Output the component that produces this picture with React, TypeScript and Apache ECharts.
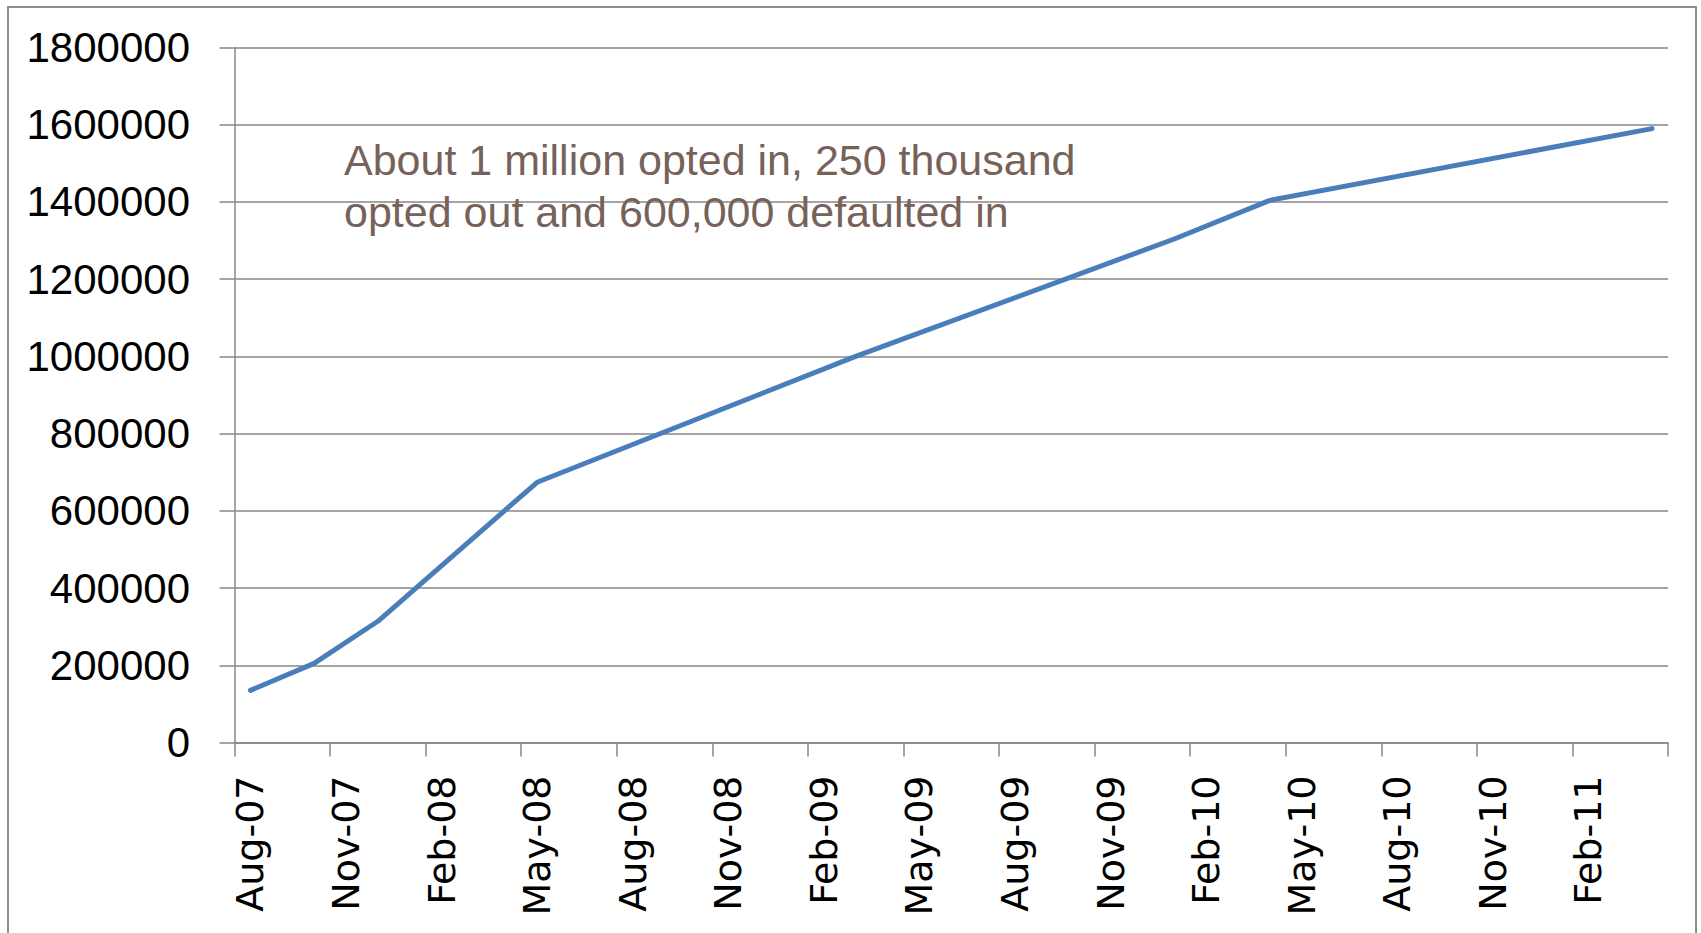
import React, { useEffect, useRef } from "react";
import * as echarts from "echarts";

// Monthly category axis (Excel date axis, base unit = month)
const months = [
  "Aug-07", "Sep-07", "Oct-07", "Nov-07", "Dec-07",
  "Jan-08", "Feb-08", "Mar-08", "Apr-08", "May-08", "Jun-08", "Jul-08", "Aug-08", "Sep-08", "Oct-08", "Nov-08", "Dec-08",
  "Jan-09", "Feb-09", "Mar-09", "Apr-09", "May-09", "Jun-09", "Jul-09", "Aug-09", "Sep-09", "Oct-09", "Nov-09", "Dec-09",
  "Jan-10", "Feb-10", "Mar-10", "Apr-10", "May-10", "Jun-10", "Jul-10", "Aug-10", "Sep-10", "Oct-10", "Nov-10", "Dec-10",
  "Jan-11", "Feb-11", "Mar-11", "Apr-11",
];

// Observed data points
const pointMonths = ["Aug-07", "Oct-07", "Dec-07", "May-08", "Mar-09", "Jan-10", "Apr-10", "Apr-11"];
const pointValues = [135000, 205000, 314000, 674000, 1000000, 1304000, 1404000, 1590000];

const yMin = 0;
const yMax = 1800000;
const yStep = 200000;

const noteLines = [
  "About 1 million opted in, 250 thousand",
  "opted out and 600,000 defaulted in",
];

export default function App() {
  const ref = useRef<HTMLDivElement>(null);

  useEffect(() => {
    if (!ref.current) return;
    const chart = echarts.init(ref.current, undefined, { renderer: "svg" });
    const seriesData = pointMonths.map((m, i) => [m, pointValues[i]]);
    chart.setOption({
      animation: false,
      backgroundColor: "#ffffff",
      grid: { left: 234.5, top: 47.5, width: 1433.5, height: 695, containLabel: false },
      xAxis: {
        type: "category",
        data: months,
        boundaryGap: true,
        axisLine: { show: true, lineStyle: { color: "#878787", width: 1.5 } },
        axisTick: { show: true, interval: 2, length: 14, inside: false, lineStyle: { color: "#878787", width: 1.5 } },
        axisLabel: {
          interval: 2,
          rotate: 90,
          margin: 33,
          color: "#000000",
          fontFamily: "DejaVu Sans",
          fontSize: 38,
        },
        splitLine: { show: false },
      },
      yAxis: {
        type: "value",
        min: yMin,
        max: yMax,
        interval: yStep,
        axisLine: { show: true, lineStyle: { color: "#878787", width: 1.5 } },
        axisTick: { show: true, length: 15, inside: false, lineStyle: { color: "#878787", width: 1.5 } },
        axisLabel: {
          margin: 44.5,
          color: "#000000",
          fontFamily: "Liberation Sans",
          fontSize: 42,
          formatter: (v: number) => String(v),
        },
        splitLine: { show: true, lineStyle: { color: "#878787", width: 1.5 } },
      },
      series: [
        {
          type: "line",
          data: seriesData,
          showSymbol: false,
          symbol: "none",
          connectNulls: true,
          lineStyle: { color: "#4a7ebb", width: 5, cap: "round", join: "round" },
          itemStyle: { color: "#4a7ebb" },
          z: 5,
        },
      ],
      graphic: [
        {
          type: "rect",
          shape: { x: 8, y: 7, width: 1688, height: 1000 },
          style: { fill: "none", stroke: "#8e8e8e", lineWidth: 2 },
          silent: true,
          z: 0,
        },
        {
          type: "text",
          x: 344,
          y: 134,
          style: {
            text: noteLines.join("\n"),
            fill: "#77625a",
            font: "43px 'Liberation Sans'",
            lineHeight: 52,
            verticalAlign: "top",
            align: "left",
          },
          z: 10,
        },
      ],
    });
    return () => chart.dispose();
  }, []);

  return (
    <div
      ref={ref}
      style={{ position: "fixed", left: 0, top: 0, width: 1701, height: 933, background: "#fff" }}
    />
  );
}
